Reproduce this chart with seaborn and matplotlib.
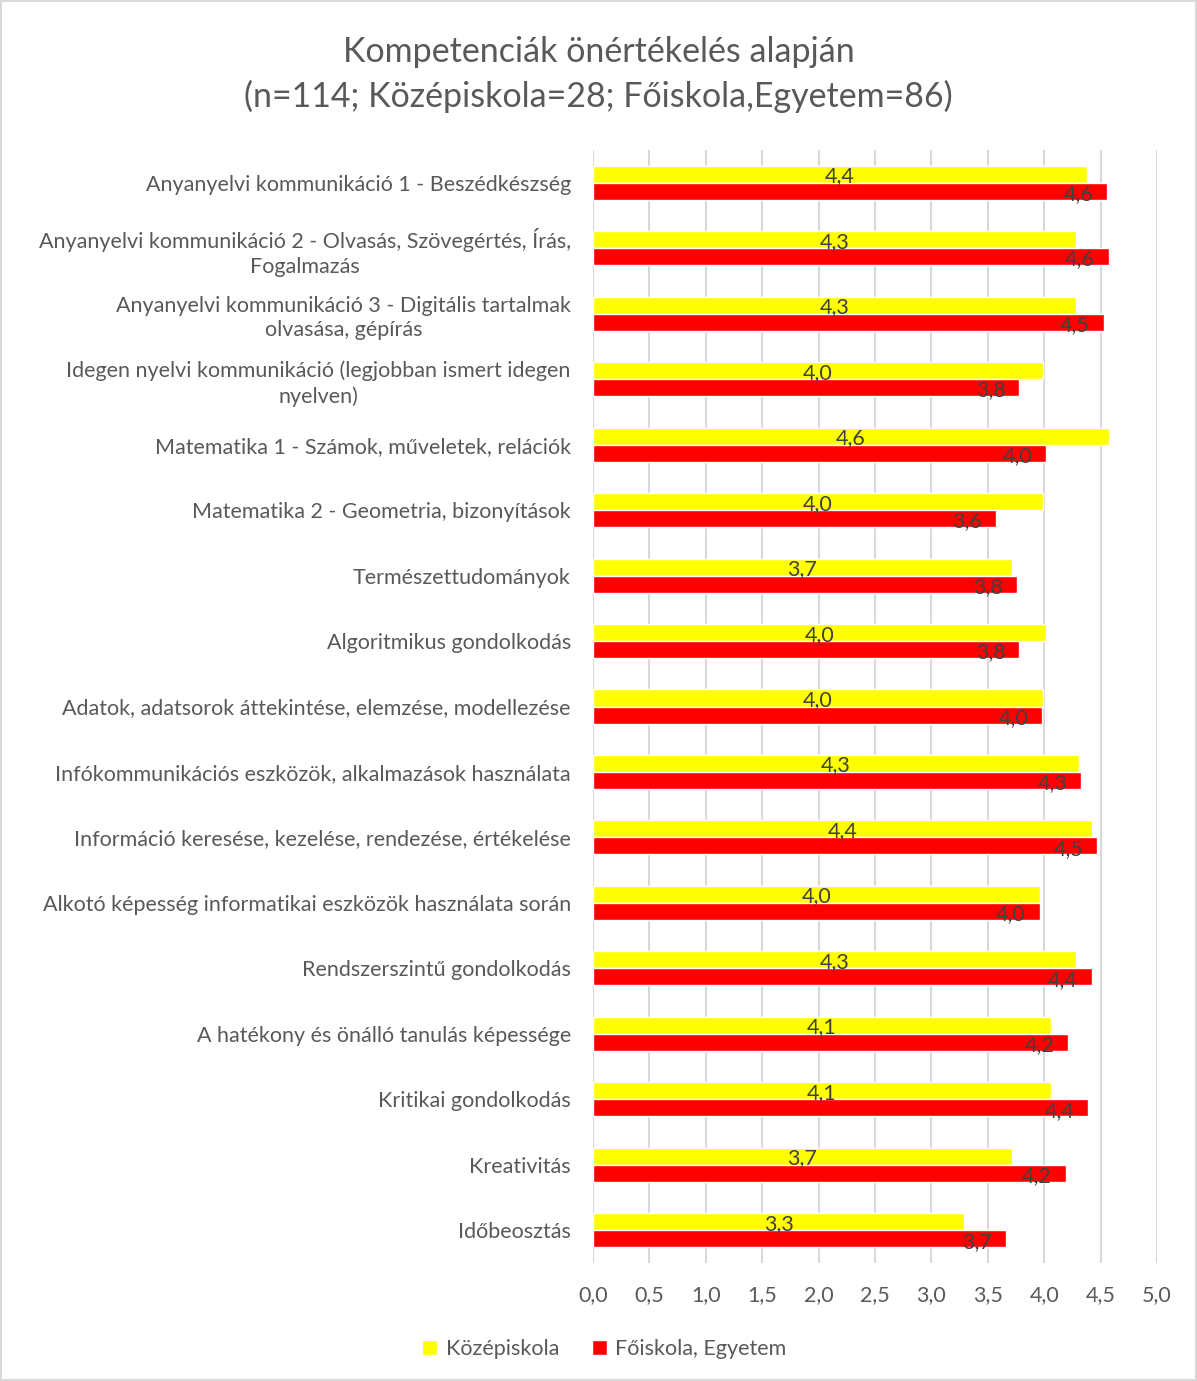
import matplotlib.pyplot as plt
import pandas as pd
import seaborn as sns

# Data
categories = [
    "Anyanyelvi kommunikáció 1 - Beszédkészség",
    "Anyanyelvi kommunikáció 2 - Olvasás, Szövegértés, Írás,\nFogalmazás",
    "Anyanyelvi kommunikáció 3 - Digitális tartalmak\nolvasása, gépírás",
    "Idegen nyelvi kommunikáció (legjobban ismert idegen\nnyelven)",
    "Matematika 1 - Számok, műveletek, relációk",
    "Matematika 2 - Geometria, bizonyítások",
    "Természettudományok",
    "Algoritmikus gondolkodás",
    "Adatok, adatsorok áttekintése, elemzése, modellezése",
    "Infókommunikációs eszközök, alkalmazások használata",
    "Információ keresése, kezelése, rendezése, értékelése",
    "Alkotó képesség informatikai eszközök használata során",
    "Rendszerszintű gondolkodás",
    "A hatékony és önálló tanulás képessége",
    "Kritikai gondolkodás",
    "Kreativitás",
    "Időbeosztás",
]
kozepiskola = [4.38, 4.28, 4.28, 3.99, 4.57, 3.99, 3.71, 4.02, 3.99, 4.31,
               4.42, 3.96, 4.28, 4.06, 4.06, 3.71, 3.29]
foiskola = [4.56, 4.57, 4.53, 3.78, 4.02, 3.57, 3.76, 3.78, 3.98, 4.33,
            4.47, 3.96, 4.42, 4.21, 4.39, 4.19, 3.66]
series = ["Középiskola", "Főiskola, Egyetem"]
colors = ["#FFFF00", "#FF0000"]
xticks = [0, 0.5, 1, 1.5, 2, 2.5, 3, 3.5, 4, 4.5, 5]

df = pd.DataFrame({
    "cat": categories * 2,
    "value": kozepiskola + foiskola,
    "series": [series[0]] * len(categories) + [series[1]] * len(categories),
})

sns.set_style("white")
plt.rcParams['font.family'] = ['Lato', 'DejaVu Sans']
txt = "#595959"
fs = 15.5

fig = plt.figure(figsize=(11.97, 13.81), dpi=100)
fig.patch.set_edgecolor("#d9d9d9")
fig.patch.set_linewidth(1.5)
ax = fig.add_axes([0.4954, 0.0854, 0.4712, 0.806])

sns.barplot(data=df, x="value", y="cat", hue="series", orient="h",
            palette=colors, width=0.52, gap=0, saturation=1, ax=ax)

ax.set_xlim(0, 5)
ax.set_xticks(xticks)
ax.set_xticklabels([f"{t:.1f}".replace(".", ",") for t in xticks],
                   fontsize=fs, color=txt)
ax.tick_params(axis="y", labelsize=fs, labelcolor=txt, length=0, pad=16)
ax.tick_params(axis="x", length=0, pad=16)
for lbl in ax.get_yticklabels():
    lbl.set_multialignment("center")
    lbl.set_linespacing(1.3)
ax.set_xlabel("")
ax.set_ylabel("")
ax.grid(axis="x", color="#d9d9d9", linewidth=1.5)
ax.set_axisbelow(True)
for s in ax.spines.values():
    s.set_visible(False)

# data labels
lab = "#404040"
for bar, v in zip(ax.containers[0], kozepiskola):
    y = bar.get_y() + bar.get_height() / 2
    ax.annotate(f"{v:.1f}".replace(".", ","), (bar.get_width() / 2, y),
                xytext=(0, -1.5), textcoords="offset points",
                ha="center", va="center", fontsize=fs, color=lab)
for bar, v in zip(ax.containers[1], foiskola):
    y = bar.get_y() + bar.get_height() / 2
    ax.annotate(f"{v:.1f}".replace(".", ","), (bar.get_width(), y),
                xytext=(-10, -2), textcoords="offset points",
                ha="right", va="center", fontsize=fs, color=lab)

handles, labels = ax.get_legend_handles_labels()
ax.get_legend().remove()
fig.legend(handles[:2], labels[:2], loc="center", bbox_to_anchor=(0.505, 0.023),
           ncol=2, frameon=False, fontsize=fs, labelcolor=txt,
           handlelength=0.7, handleheight=0.7, handletextpad=0.4,
           columnspacing=1.5)

fig.suptitle("Kompetenciák önértékelés alapján\n(n=114; Középiskola=28; Főiskola,Egyetem=86)",
             y=0.974, fontsize=24.5, color=txt, linespacing=1.45)

fig.savefig("out.png", dpi=100)
